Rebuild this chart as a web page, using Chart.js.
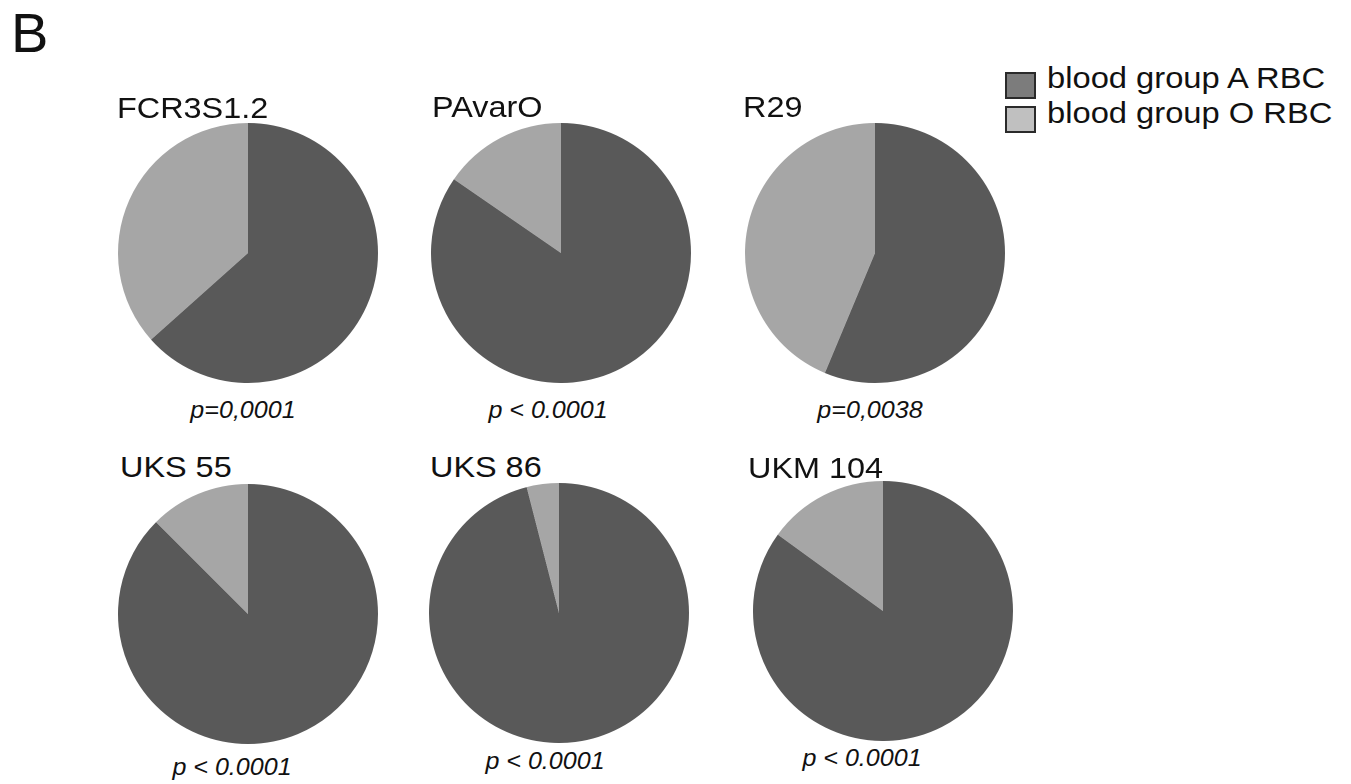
<!DOCTYPE html>
<html>
<head>
<meta charset="utf-8">
<script src="https://cdn.jsdelivr.net/npm/chart.js@4.4.1/dist/chart.umd.min.js"></script>
<style>
  html, body { margin: 0; padding: 0; background: #fff; }
  #page { position: relative; width: 1351px; height: 784px; overflow: hidden;
          font-family: "Liberation Sans", Arial, sans-serif; color: #111; }
  canvas { position: absolute; }
  .txt { position: absolute; white-space: nowrap; line-height: 1; }
  .title { font-size: 30px; transform: scaleX(1.08); transform-origin: left top; }
  .pval { font-size: 23px; font-style: italic; width: 200px; text-align: center;
          transform: scaleX(1.09); transform-origin: center top; }
  .leg { font-size: 30px; transform: scaleX(1.09); transform-origin: left top; }
  .box { position: absolute; width: 27px; height: 23px; border: 2px solid #2a2a2a; }
</style>
</head>
<body>
<div id="page"></div>
<script>
'use strict';

// ---- data ----
const strains  = ['FCR3S1.2', 'PAvarO', 'R29', 'UKS 55', 'UKS 86', 'UKM 104'];
const groupA   = [63.4, 84.6, 56.3, 87.5, 96.0, 85.0];   // % bound to blood group A RBC
const groupO   = [36.6, 15.4, 43.7, 12.5, 4.0, 15.0];    // % bound to blood group O RBC
const pValues  = ['p=0,0001', 'p < 0.0001', 'p=0,0038', 'p < 0.0001', 'p < 0.0001', 'p < 0.0001'];
const legendLabels = ['blood group A RBC', 'blood group O RBC'];

// ---- layout (pie centres, title / p-value anchors) ----
const PIE_R = 130;
const pieCentres = [[248, 252.5], [560.5, 253.3], [874.5, 252.5], [247.5, 614], [558.8, 612.8], [882.5, 611]];
const titlePos   = [[117, 118], [431.5, 117.5], [743, 117], [120, 477], [430, 477], [748, 478]];
const pvalPos    = [[242.5, 418], [548, 418], [870, 418], [232, 775], [545, 769.5], [862, 766.5]];

const COL_A = '#595959';
const COL_O = '#a6a6a6';

const page = document.getElementById('page');

function addText(cls, text, left, baseline, size) {
  const d = document.createElement('div');
  d.className = 'txt ' + cls;
  d.textContent = text;
  d.style.left = left + 'px';
  d.style.top = (baseline - 0.8465 * size) + 'px';
  page.appendChild(d);
  return d;
}

// panel letter
const B = addText('', 'B', 11, 52, 56);
B.style.fontSize = '56px';

// pies
strains.forEach((name, i) => {
  const [cx, cy] = pieCentres[i];
  const cv = document.createElement('canvas');
  cv.width = PIE_R * 2;
  cv.height = PIE_R * 2;
  cv.style.left = (cx - PIE_R) + 'px';
  cv.style.top = (cy - PIE_R) + 'px';
  cv.style.width = PIE_R * 2 + 'px';
  cv.style.height = PIE_R * 2 + 'px';
  page.appendChild(cv);

  new Chart(cv, {
    type: 'pie',
    data: {
      labels: legendLabels,
      datasets: [{
        data: [groupA[i], groupO[i]],
        backgroundColor: [COL_A, COL_O],
        borderWidth: 0,
      }]
    },
    options: {
      responsive: false,
      animation: false,
      devicePixelRatio: 2,
      layout: { padding: 0 },
      plugins: { legend: { display: false }, tooltip: { enabled: false } },
    }
  });

  addText('title', name, titlePos[i][0], titlePos[i][1], 30);
  const p = addText('pval', pValues[i], pvalPos[i][0] - 100, pvalPos[i][1], 23);
});

// legend
const legendColours = ['#7c7c7c', '#c0c0c0'];
const legendTops = [72, 106];
const legendBaselines = [88.5, 123.5];
legendLabels.forEach((lab, i) => {
  const b = document.createElement('div');
  b.className = 'box';
  b.style.left = '1005px';
  b.style.top = legendTops[i] + 'px';
  b.style.background = legendColours[i];
  page.appendChild(b);
  addText('leg', lab, 1047, legendBaselines[i], 30);
});
</script>
</body>
</html>
